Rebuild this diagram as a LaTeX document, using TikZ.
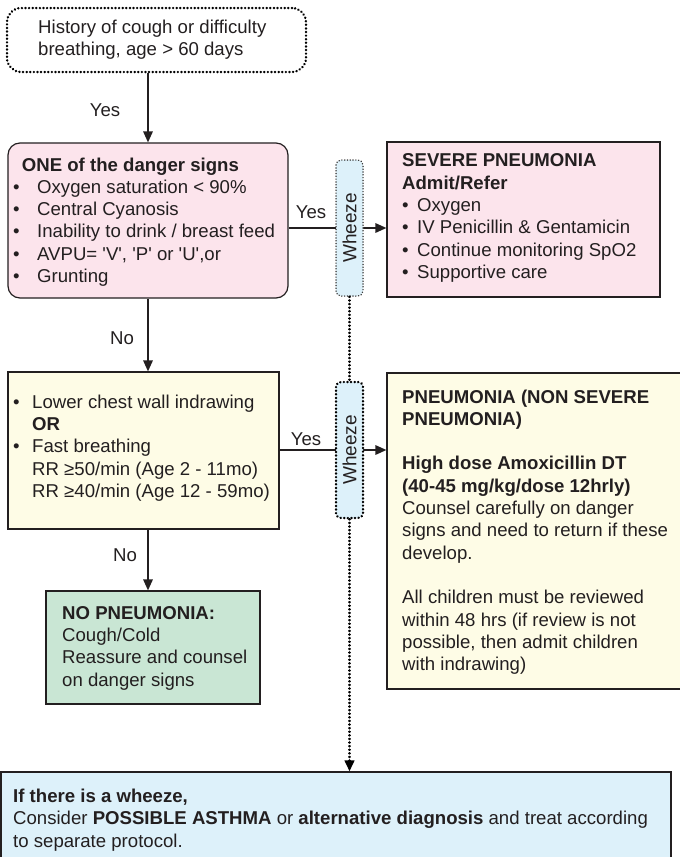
\documentclass[tikz,border=0pt]{standalone}
\usepackage{fontspec}
\setmainfont{Liberation Sans}[Ligatures=TeXOff]
\usetikzlibrary{arrows.meta,backgrounds}
\definecolor{pinkf}{HTML}{FCE4EC}
\definecolor{yellf}{HTML}{FEFCE6}
\definecolor{greenf}{HTML}{C9E6D4}
\definecolor{bluef}{HTML}{DDF1FA}
\definecolor{edge}{HTML}{231F20}
\definecolor{ink}{HTML}{231F20}
\begin{document}
\begin{tikzpicture}[x=1pt,y=-1pt,
  box/.style={draw=edge,line width=1.2pt,inner sep=0pt},
  txt/.style={anchor=west,align=left,inner sep=0pt,text=ink,font=\fontsize{18.6}{22.3}\selectfont},
  lbl/.style={inner sep=0pt,text=ink,font=\fontsize{18.6}{22.3}\selectfont},
  conn/.style={draw=edge,line width=1.6pt},
  arr/.style={conn,-{Triangle[length=11pt,width=9.5pt]}},
  dots/.style={draw=black,line width=2.5pt,line cap=round,dash pattern=on 0.2pt off 3.4pt},
  wz/.style={fill=bluef,rounded corners=5pt,rotate=90,inner sep=0pt,minimum width=136pt,minimum height=27pt,text=ink,font=\fontsize{19}{20}\selectfont}
]
\useasboundingbox (0,0) rectangle (680,857);

% boxes
\node[dots,rounded corners=14pt,minimum width=299pt,minimum height=64pt,inner sep=0pt] (top) at (156.5,40) {};
\node[txt] (toptxt) at (38,40) {History of cough or difficulty\\breathing, age > 60 days};

\node[box,fill=pinkf,rounded corners=12pt,minimum width=280pt,minimum height=155pt] (pink) at (148,220.5) {};
\node[txt] (pinktxt) at (13,222) {\hspace*{8.7pt}\textbf{ONE of the danger signs}\\
\makebox[24pt][l]{•}Oxygen saturation < 90\%\\
\makebox[24pt][l]{•}Central Cyanosis\\
\makebox[24pt][l]{•}Inability to drink / breast feed\\
\makebox[24pt][l]{•}AVPU= 'V', 'P' or 'U',or\\
\makebox[24pt][l]{•}Grunting};

\node[box,fill=pinkf,minimum width=273pt,minimum height=155pt] (severe) at (523.5,219.5) {};
\node[txt] (severetxt) at (402,218) {\textbf{SEVERE PNEUMONIA}\\
\textbf{Admit/Refer}\\
\makebox[15pt][l]{•}Oxygen\\
\makebox[15pt][l]{•}IV Penicillin \& Gentamicin\\
\makebox[15pt][l]{•}Continue monitoring SpO2\\
\makebox[15pt][l]{•}Supportive care};

\node[box,fill=yellf,minimum width=271pt,minimum height=157pt] (yell) at (143.5,450.5) {};
\node[txt] (yelltxt) at (13,448) {\makebox[19pt][l]{•}Lower chest wall indrawing\\
\hspace*{19pt}\textbf{OR}\\
\makebox[19pt][l]{•}Fast breathing\\
\hspace*{19pt}RR ≥50/min (Age 2 - 11mo)\\
\hspace*{19pt}RR ≥40/min (Age 12 - 59mo)};

\node[box,fill=yellf,minimum width=294pt,minimum height=316pt] (pneu) at (534,531) {};
\node[txt] (pneutxt) at (402,532) {\textbf{PNEUMONIA (NON SEVERE}\\
\textbf{PNEUMONIA)}\\[22.3pt]
\textbf{High dose Amoxicillin DT}\\
\textbf{(40-45 mg/kg/dose 12hrly)}\\
Counsel carefully on danger\\
signs and need to return if these\\
develop.\\[22.3pt]
All children must be reviewed\\
within 48 hrs (if review is not\\
possible, then admit children\\
with indrawing)};

\node[box,fill=greenf,minimum width=214pt,minimum height=113pt] (green) at (153,647.5) {};
\node[txt] (greentxt) at (62,648) {\textbf{NO PNEUMONIA:}\\
Cough/Cold\\
Reassure and counsel\\
on danger signs};

\node[box,fill=bluef,minimum width=670pt,minimum height=98pt] (final) at (336,821) {};
\node[txt] (finaltxt) at (13,820) {\textbf{If there is a wheeze,}\\
Consider \textbf{POSSIBLE ASTHMA} or \textbf{alternative diagnosis} and treat according\\
to separate protocol.};

% wheeze boxes
\node[wz,draw=black!75,line width=1.5pt,dash pattern=on 0.2pt off 2.6pt,line cap=round] (w1) at (349.5,228) {Wheeze};
\node[wz,draw=black,line width=2.5pt,dash pattern=on 0.2pt off 3.4pt,line cap=round] (w2) at (349.5,450) {Wheeze};

% connectors
\begin{scope}[on background layer]
\draw[arr] (w1.center -| pink.east) -- (w1.center -| severe.west);
\draw[arr] (w2.center -| yell.east) -- (w2.center -| pneu.west);
\end{scope}
\draw[arr] (top.south -| pink.north) -- (pink.north);
\draw[arr] (pink.south) -- (pink.south |- yell.north);
\draw[arr] (pink.south |- yell.south) -- (pink.south |- green.north);
\draw[dots] (w1.west) -- (w2.east);
\draw[dots,-{Triangle[length=11pt,width=9.5pt]}] (w2.west) -- (w2.west |- final.north);

% labels
\node[lbl] (l1) at (105,110) {Yes};
\node[lbl] (l2) at (311,212) {Yes};
\node[lbl] (l3) at (122,338) {No};
\node[lbl] (l4) at (306,439) {Yes};
\node[lbl] (l5) at (125,555) {No};
\end{tikzpicture}
\end{document}
